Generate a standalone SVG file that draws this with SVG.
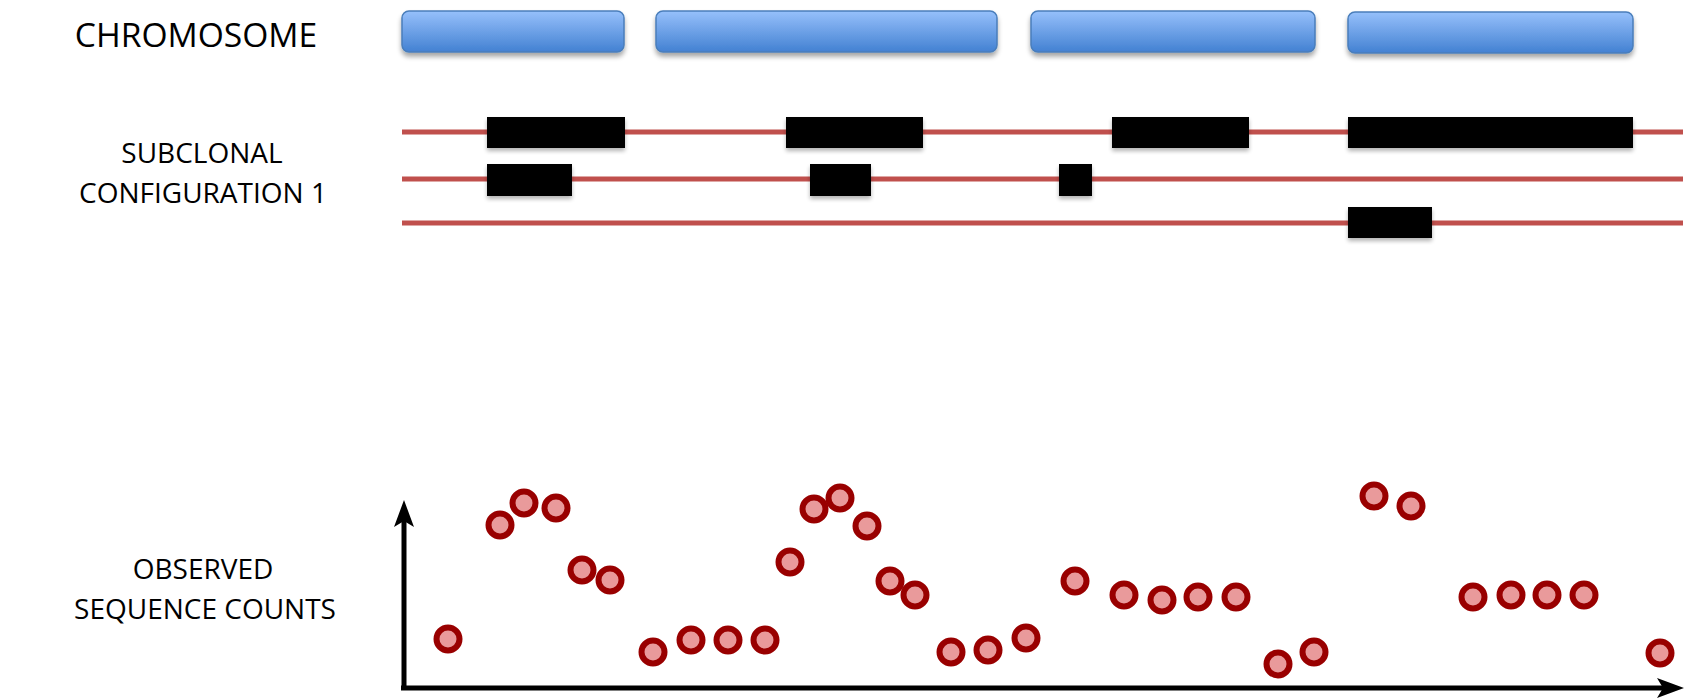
<svg xmlns="http://www.w3.org/2000/svg" width="1687" height="700" viewBox="0 0 1687 700">
<style>
.lbl{font-family:"Open Sans","Liberation Sans",sans-serif;fill:#000;text-anchor:middle}
.chr{fill:url(#blueGrad);stroke:#4a7ebb;stroke-width:1.5;filter:url(#shadow)}
.track{stroke:#c0504d;stroke-width:5;fill:none}
.blk{fill:#000;filter:url(#shadow2)}
.pt{fill:#e99a9b;stroke:#990000;stroke-width:6}
.axis{stroke:#000;stroke-width:5;fill:none}
</style>
<defs>
<linearGradient id="blueGrad" x1="0" y1="0" x2="0" y2="1">
<stop offset="0" stop-color="#96c0fb"/>
<stop offset="1" stop-color="#4381d2"/>
</linearGradient>
<filter id="shadow" x="-5%" y="-30%" width="110%" height="170%">
<feGaussianBlur in="SourceAlpha" stdDeviation="2.5"/>
<feOffset dy="4"/>
<feComponentTransfer><feFuncA type="linear" slope="0.35"/></feComponentTransfer>
<feMerge><feMergeNode/><feMergeNode in="SourceGraphic"/></feMerge>
</filter>
<filter id="shadow2" x="-10%" y="-30%" width="120%" height="170%">
<feGaussianBlur in="SourceAlpha" stdDeviation="2"/>
<feOffset dy="3"/>
<feComponentTransfer><feFuncA type="linear" slope="0.3"/></feComponentTransfer>
<feMerge><feMergeNode/><feMergeNode in="SourceGraphic"/></feMerge>
</filter>
</defs>
<g id="labels">
<text class="lbl" x="196" y="47" font-size="33.6">CHROMOSOME</text>
<text class="lbl" x="202" y="163" font-size="28">SUBCLONAL</text>
<text class="lbl" x="203" y="203" font-size="28">CONFIGURATION 1</text>
<text class="lbl" x="203" y="579" font-size="28">OBSERVED</text>
<text class="lbl" x="205" y="619" font-size="28">SEQUENCE COUNTS</text>
</g>
<g id="chromosome">
<rect class="chr" x="402" y="11" width="222" height="41" rx="7"/>
<rect class="chr" x="656" y="11" width="341" height="41" rx="7"/>
<rect class="chr" x="1031" y="11" width="284" height="41" rx="7"/>
<rect class="chr" x="1348" y="12" width="285" height="41" rx="7"/>
</g>
<g id="tracks">
<line class="track" x1="402" y1="132" x2="1683" y2="132"/>
<line class="track" x1="402" y1="179" x2="1683" y2="179"/>
<line class="track" x1="402" y1="223" x2="1683" y2="223"/>
</g>
<g id="segments">
<rect class="blk" x="487" y="117" width="138" height="31"/>
<rect class="blk" x="786" y="117" width="137" height="31"/>
<rect class="blk" x="1112" y="117" width="137" height="31"/>
<rect class="blk" x="1348" y="117" width="285" height="31"/>
<rect class="blk" x="487" y="164" width="85" height="32"/>
<rect class="blk" x="810" y="164" width="61" height="32"/>
<rect class="blk" x="1059" y="164" width="33" height="32"/>
<rect class="blk" x="1348" y="207" width="84" height="31"/>
</g>
<g id="axes">
<line class="axis" x1="404" y1="688" x2="404" y2="520"/>
<polygon points="404,500 414,527 404,521 394,527" fill="#000"/>
<line class="axis" x1="401" y1="688" x2="1665" y2="688"/>
<polygon points="1684,688 1657,698 1663,688 1657,678" fill="#000"/>
</g>
<g id="points">
<circle class="pt" cx="448" cy="639" r="11.5"/>
<circle class="pt" cx="500" cy="525" r="11.5"/>
<circle class="pt" cx="524" cy="503" r="11.5"/>
<circle class="pt" cx="556" cy="508" r="11.5"/>
<circle class="pt" cx="582" cy="570" r="11.5"/>
<circle class="pt" cx="610" cy="580" r="11.5"/>
<circle class="pt" cx="653" cy="652" r="11.5"/>
<circle class="pt" cx="691" cy="640" r="11.5"/>
<circle class="pt" cx="728" cy="640" r="11.5"/>
<circle class="pt" cx="765" cy="640" r="11.5"/>
<circle class="pt" cx="790" cy="562" r="11.5"/>
<circle class="pt" cx="814" cy="509" r="11.5"/>
<circle class="pt" cx="840" cy="498" r="11.5"/>
<circle class="pt" cx="867" cy="526" r="11.5"/>
<circle class="pt" cx="890" cy="581" r="11.5"/>
<circle class="pt" cx="915" cy="595" r="11.5"/>
<circle class="pt" cx="951" cy="652" r="11.5"/>
<circle class="pt" cx="988" cy="650" r="11.5"/>
<circle class="pt" cx="1026" cy="638" r="11.5"/>
<circle class="pt" cx="1075" cy="581" r="11.5"/>
<circle class="pt" cx="1124" cy="595" r="11.5"/>
<circle class="pt" cx="1162" cy="600" r="11.5"/>
<circle class="pt" cx="1198" cy="597" r="11.5"/>
<circle class="pt" cx="1236" cy="597" r="11.5"/>
<circle class="pt" cx="1278" cy="664" r="11.5"/>
<circle class="pt" cx="1314" cy="652" r="11.5"/>
<circle class="pt" cx="1374" cy="496" r="11.5"/>
<circle class="pt" cx="1411" cy="506" r="11.5"/>
<circle class="pt" cx="1473" cy="597" r="11.5"/>
<circle class="pt" cx="1511" cy="595" r="11.5"/>
<circle class="pt" cx="1547" cy="595" r="11.5"/>
<circle class="pt" cx="1584" cy="595" r="11.5"/>
<circle class="pt" cx="1660" cy="653" r="11.5"/>
</g>
</svg>
